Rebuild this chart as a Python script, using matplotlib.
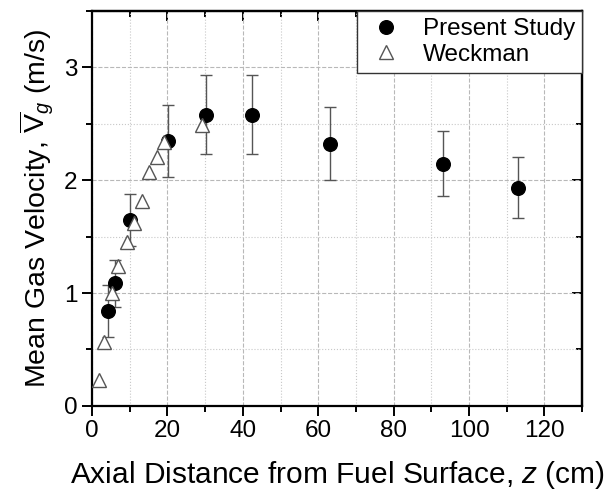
import numpy as np
import matplotlib.pyplot as plt
from matplotlib.ticker import MultipleLocator

plt.rcParams['font.family'] = ['Liberation Sans', 'DejaVu Sans']
plt.rcParams['mathtext.fontset'] = 'custom'
plt.rcParams['mathtext.rm'] = 'Liberation Sans'
plt.rcParams['mathtext.it'] = 'Liberation Sans:italic'

# present study (filled circles with error bars)
z_present = [4.1, 6.1, 10.1, 20.2, 30.2, 42.3, 63.0, 93.2, 113.0]
v_present = [0.84, 1.085, 1.65, 2.35, 2.58, 2.58, 2.325, 2.148, 1.935]
err_present = [0.23, 0.21, 0.23, 0.32, 0.35, 0.35, 0.32, 0.29, 0.27]

# Weckman data (open triangles)
z_weck = [1.7, 3.2, 5.2, 7.0, 9.3, 11.2, 13.2, 15.2, 17.2, 19.2, 29.1]
v_weck = [0.23, 0.57, 1.0, 1.24, 1.45, 1.62, 1.82, 2.07, 2.21, 2.34, 2.49]

fig = plt.figure(figsize=(6.14, 4.98), dpi=100)
ax = fig.add_axes([0.150, 0.185, 0.798, 0.793])

ax.errorbar(z_present, v_present, yerr=err_present, fmt='none',
            ecolor='#555555', elinewidth=1.0, capsize=4.5, capthick=1.0, zorder=2)
ax.plot(z_present, v_present, 'o', color='black', ms=9.8, ls='none',
        label='Present Study', zorder=3)
ax.plot(z_weck, v_weck, '^', ms=10.5, mfc='white', mec='#555555', mew=1.0,
        ls='none', label='Weckman', zorder=4)

ax.set_xlim(0, 130)
ax.set_ylim(0, 3.5)
ax.xaxis.set_major_locator(MultipleLocator(20))
ax.xaxis.set_minor_locator(MultipleLocator(10))
ax.yaxis.set_major_locator(MultipleLocator(1))
ax.yaxis.set_minor_locator(MultipleLocator(0.5))

ax.grid(which='major', ls='--', color='#b8b8b8', lw=0.8)
ax.grid(which='minor', ls=':', color='#c8c8c8', lw=0.8)
ax.set_axisbelow(True)

for s in ax.spines.values():
    s.set_linewidth(1.6)

ax.tick_params(which='both', direction='out', width=1.4, labelsize=17.5,
               top=False, right=False)
ax.tick_params(which='major', length=7)
ax.tick_params(which='minor', length=4)

# inward ticks on top and right
ax2 = ax.secondary_xaxis('top')
ax2.xaxis.set_major_locator(MultipleLocator(20))
ax2.xaxis.set_minor_locator(MultipleLocator(10))
ax2.tick_params(which='both', direction='in', width=1.4, labeltop=False)
ax2.tick_params(which='major', length=7)
ax2.tick_params(which='minor', length=4)
ax3 = ax.secondary_yaxis('right')
ax3.yaxis.set_major_locator(MultipleLocator(1))
ax3.yaxis.set_minor_locator(MultipleLocator(0.5))
ax3.tick_params(which='both', direction='in', width=1.4, labelright=False)
ax3.tick_params(which='major', length=7)
ax3.tick_params(which='minor', length=4)
for a in (ax2, ax3):
    for s in a.spines.values():
        s.set_linewidth(1.6)

ax.set_xlabel(r'Axial Distance from Fuel Surface, $\it{z}$ (cm)', fontsize=21.5, labelpad=12)
ax.set_ylabel(r'Mean Gas Velocity, $\overline{\mathrm{V}}_{\it{g}}$ (m/s)', fontsize=20.5, labelpad=6)

leg = ax.legend(loc='upper right', fontsize=17.5, frameon=True, fancybox=False,
                edgecolor='#333333', framealpha=1, borderaxespad=0,
                handletextpad=0.6, borderpad=0.3, labelspacing=0.15, handlelength=1.8)
leg.get_frame().set_linewidth(1.0)

fig.savefig('out.png', dpi=100)
